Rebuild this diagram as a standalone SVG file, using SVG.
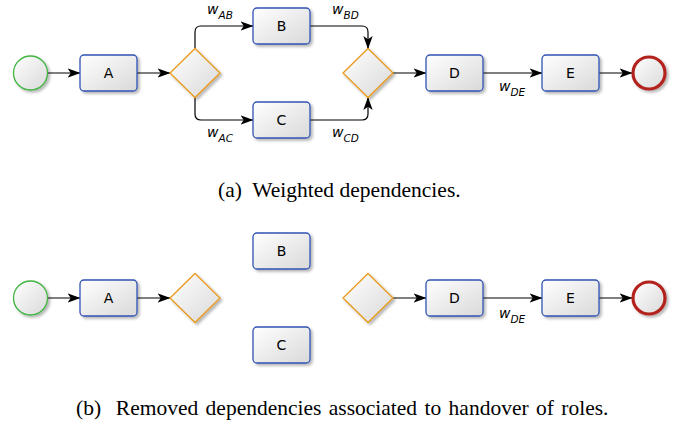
<svg xmlns="http://www.w3.org/2000/svg" width="686" height="424" viewBox="0 0 686 424">
  <style>
    .task { fill: url(#fillGrad); stroke: #3253b5; stroke-width: 1.3; filter: url(#shadow); }
    .start { fill: url(#fillGrad); stroke: #42b543; stroke-width: 1.3; filter: url(#shadow); }
    .end { fill: url(#fillGrad); stroke: #b3231f; stroke-width: 3.2; filter: url(#shadow); }
    .gate { fill: url(#fillGrad); stroke: #e89a1e; stroke-width: 1.3; filter: url(#shadow); }
    .lbl { font-family: "DejaVu Sans", sans-serif; font-size: 14px; fill: #000; text-anchor: middle; }
    .w { font-family: "DejaVu Sans", sans-serif; font-size: 14px; font-style: italic; fill: #000; }
    .sub { font-size: 10.5px; }
    .edge { fill: none; stroke: #000; stroke-width: 1.2; marker-end: url(#arrow); }
    .cap { font-family: "Liberation Serif", "Times New Roman", serif; font-size: 21.5px; fill: #000; }
  </style>
  <defs>
    <linearGradient id="fillGrad" x1="0" y1="0" x2="1" y2="1">
      <stop offset="0" stop-color="#ffffff"/>
      <stop offset="1" stop-color="#d9d9d9"/>
    </linearGradient>
    <filter id="shadow" x="-30%" y="-30%" width="160%" height="160%">
      <feGaussianBlur in="SourceAlpha" stdDeviation="1.5"/>
      <feOffset dx="2" dy="2" result="b"/>
      <feComponentTransfer><feFuncA type="linear" slope="0.3"/></feComponentTransfer>
      <feMerge><feMergeNode/><feMergeNode in="SourceGraphic"/></feMerge>
    </filter>
    <marker id="arrow" viewBox="0 0 13 10" refX="12.5" refY="5" markerWidth="13" markerHeight="10" markerUnits="userSpaceOnUse" orient="auto">
      <path d="M0,0.3 L13,5 L0,9.7 L3.2,5 Z" fill="#000"/>
    </marker>
  </defs>

  <!-- (a) weighted process -->
  <g id="connectors-a">
    <path class="edge" d="M47.5,73 H80"/>
    <path class="edge" d="M137,73 H170"/>
    <path class="edge" d="M195,48.5 V32 Q195,26 201,26 H253"/>
    <path class="edge" d="M195,97.5 V114 Q195,120 201,120 H253"/>
    <path class="edge" d="M310,26 H362 Q368,26 368,32 V48.5"/>
    <path class="edge" d="M310,120 H362 Q368,120 368,114 V97.5"/>
    <path class="edge" d="M393,73 H426"/>
    <path class="edge" d="M483,73 H542"/>
    <path class="edge" d="M599,73 H632"/>
  </g>
  <g id="weights-a">
    <text class="w" x="207" y="14">w<tspan class="sub" dy="4.5">AB</tspan></text>
    <text class="w" x="207" y="137">w<tspan class="sub" dy="4.5">AC</tspan></text>
    <text class="w" x="332" y="14">w<tspan class="sub" dy="4.5">BD</tspan></text>
    <text class="w" x="332" y="137">w<tspan class="sub" dy="4.5">CD</tspan></text>
    <text class="w" x="499" y="91">w<tspan class="sub" dy="4.5">DE</tspan></text>
  </g>
  <g id="a-start"><circle class="start" cx="30.5" cy="73" r="17"/></g>
  <g id="a-A"><rect class="task" x="80" y="55" width="57" height="36" rx="4"/><text class="lbl" x="108.5" y="78">A</text></g>
  <g id="a-split"><polygon class="gate" points="195,48.5 220,73 195,97.5 170,73"/></g>
  <g id="a-B"><rect class="task" x="253" y="8" width="57" height="36" rx="4"/><text class="lbl" x="281.5" y="31">B</text></g>
  <g id="a-C"><rect class="task" x="253" y="102" width="57" height="36" rx="4"/><text class="lbl" x="281.5" y="125">C</text></g>
  <g id="a-join"><polygon class="gate" points="368,48.5 393,73 368,97.5 343,73"/></g>
  <g id="a-D"><rect class="task" x="426" y="55" width="57" height="36" rx="4"/><text class="lbl" x="454.5" y="78">D</text></g>
  <g id="a-E"><rect class="task" x="542" y="55" width="57" height="36" rx="4"/><text class="lbl" x="570.5" y="78">E</text></g>
  <g id="a-end"><circle class="end" cx="649" cy="73" r="16"/></g>
  <text class="cap" x="218" y="197" xml:space="preserve">(a)  Weighted dependencies.</text>

  <!-- (b) process without handover dependencies -->
  <g id="connectors-b">
    <path class="edge" d="M47.5,298 H80"/>
    <path class="edge" d="M137,298 H170"/>
    <path class="edge" d="M393,298 H426"/>
    <path class="edge" d="M483,298 H542"/>
    <path class="edge" d="M599,298 H632"/>
  </g>
  <g id="weights-b">
    <text class="w" x="499" y="318">w<tspan class="sub" dy="4.5">DE</tspan></text>
  </g>
  <g id="b-start"><circle class="start" cx="30.5" cy="298" r="17"/></g>
  <g id="b-A"><rect class="task" x="80" y="280" width="57" height="36" rx="4"/><text class="lbl" x="108.5" y="303">A</text></g>
  <g id="b-split"><polygon class="gate" points="195,273.5 220,298 195,322.5 170,298"/></g>
  <g id="b-B"><rect class="task" x="253" y="233" width="57" height="36" rx="4"/><text class="lbl" x="281.5" y="256">B</text></g>
  <g id="b-C"><rect class="task" x="253" y="327" width="57" height="36" rx="4"/><text class="lbl" x="281.5" y="350">C</text></g>
  <g id="b-join"><polygon class="gate" points="368,273.5 393,298 368,322.5 343,298"/></g>
  <g id="b-D"><rect class="task" x="426" y="280" width="57" height="36" rx="4"/><text class="lbl" x="454.5" y="303">D</text></g>
  <g id="b-E"><rect class="task" x="542" y="280" width="57" height="36" rx="4"/><text class="lbl" x="570.5" y="303">E</text></g>
  <g id="b-end"><circle class="end" cx="649" cy="298" r="16"/></g>
  <text class="cap" x="76" y="415" xml:space="preserve" word-spacing="2">(b)  Removed dependencies associated to handover of roles.</text>
</svg>
